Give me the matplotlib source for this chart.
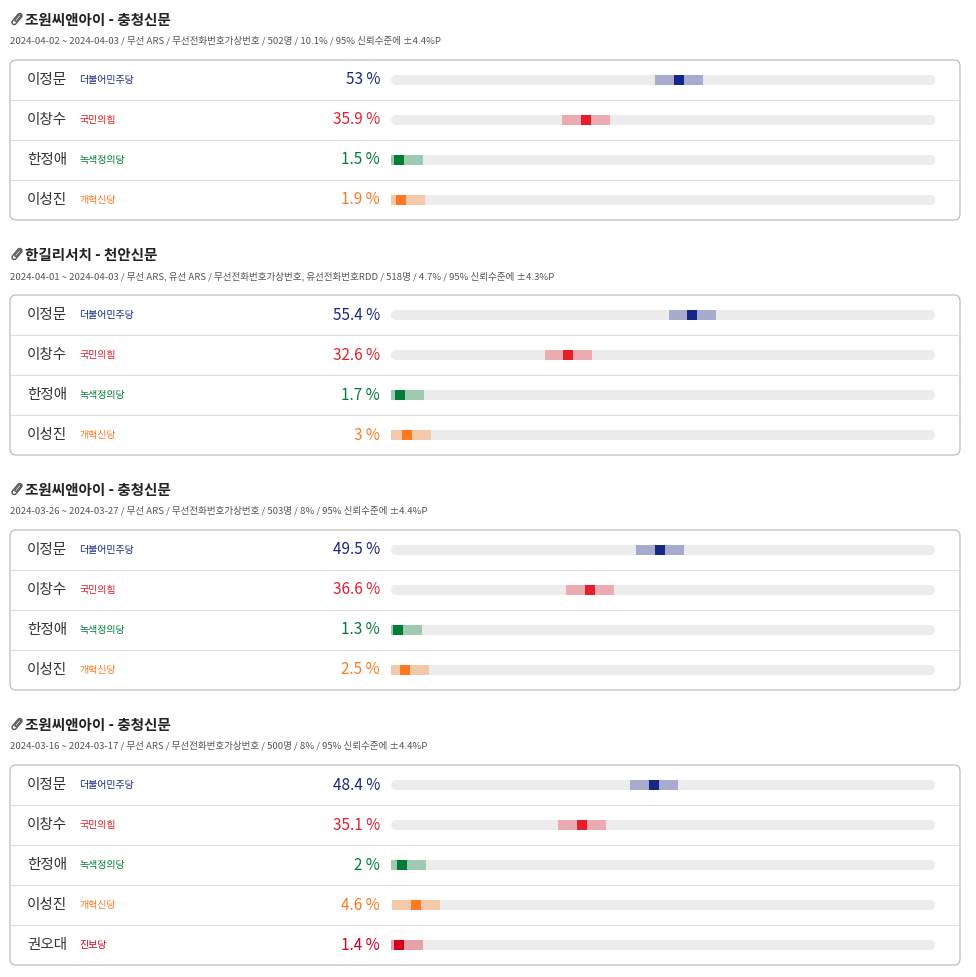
import matplotlib
matplotlib.use("Agg")
import matplotlib.pyplot as plt
from matplotlib.patches import FancyBboxPatch
import matplotlib.transforms as mtransforms

plt.rcParams['font.family'] = ['Noto Sans CJK KR', 'DejaVu Sans']

# ---------------- data ----------------
titles = ["조원씨앤아이 - 충청신문", "한길리서치 - 천안신문", "조원씨앤아이 - 충청신문", "조원씨앤아이 - 충청신문"]
subtitles = [
    "2024-04-02 ~ 2024-04-03 / 무선 ARS / 무선전화번호가상번호 / 502명 / 10.1% / 95% 신뢰수준에 ±4.4%P",
    "2024-04-01 ~ 2024-04-03 / 무선 ARS, 유선 ARS / 무선전화번호가상번호, 유선전화번호RDD / 518명 / 4.7% / 95% 신뢰수준에 ±4.3%P",
    "2024-03-26 ~ 2024-03-27 / 무선 ARS / 무선전화번호가상번호 / 503명 / 8% / 95% 신뢰수준에 ±4.4%P",
    "2024-03-16 ~ 2024-03-17 / 무선 ARS / 무선전화번호가상번호 / 500명 / 8% / 95% 신뢰수준에 ±4.4%P",
]
candidates_4 = ["이정문", "이창수", "한정애", "이성진"]
parties_4 = ["더불어민주당", "국민의힘", "녹색정의당", "개혁신당"]
candidates_5 = ["이정문", "이창수", "한정애", "이성진", "권오대"]
parties_5 = ["더불어민주당", "국민의힘", "녹색정의당", "개혁신당", "진보당"]

values_1 = [53, 35.9, 1.5, 1.9]
values_2 = [55.4, 32.6, 1.7, 3]
values_3 = [49.5, 36.6, 1.3, 2.5]
values_4 = [48.4, 35.1, 2, 4.6, 1.4]
margins = [4.4, 4.3, 4.4, 4.4]

sections = [
    (candidates_4, parties_4, values_1),
    (candidates_4, parties_4, values_2),
    (candidates_4, parties_4, values_3),
    (candidates_5, parties_5, values_4),
]

party_dark = {"더불어민주당": "#152684", "국민의힘": "#e61e2b", "녹색정의당": "#007c36",
              "개혁신당": "#ff7920", "진보당": "#d6001c"}
party_light = {"더불어민주당": "#a7acce", "국민의힘": "#ebabb0", "녹색정의당": "#a0c9b2",
               "개혁신당": "#f4c9aa", "진보당": "#e5a1aa"}

# ---------------- layout ----------------
W, H = 976, 977
fig = plt.figure(figsize=(W / 100, H / 100), dpi=100)
base = fig.add_axes([0, 0, 1, 1])
base.set_xlim(0, W)
base.set_ylim(H, 0)
base.axis('off')

ROW_H = 40
BAR_L, BAR_R = 391, 935
BOX_L, BOX_R = 10, 960
sec_top = 0

for si, (names, parties, vals) in enumerate(sections):
    y0 = sec_top
    # paperclip icon
    clip = FancyBboxPatch((-2.2, -6.5), 4.4, 13, boxstyle="round,pad=0,rounding_size=2.2",
                          fill=False, ec="#555555", lw=1.0)
    tr = mtransforms.Affine2D().rotate_deg(40).translate(17, y0 + 19) + base.transData
    clip.set_transform(tr)
    base.add_patch(clip)
    clip2 = FancyBboxPatch((-1.0, -4.5), 2.0, 8, boxstyle="round,pad=0,rounding_size=1.0",
                           fill=False, ec="#555555", lw=0.9)
    clip2.set_transform(mtransforms.Affine2D().rotate_deg(40).translate(17.5, y0 + 18.5) + base.transData)
    base.add_patch(clip2)

    base.text(25, y0 + 20, titles[si], fontsize=10.5, fontweight='bold', color="#222222",
              va='center', ha='left')
    base.text(10, y0 + 41, subtitles[si], fontsize=6.9, color="#555555", va='center', ha='left')

    n = len(names)
    box_top = y0 + 60
    box_bot = box_top + n * ROW_H
    box = FancyBboxPatch((BOX_L, box_top), BOX_R - BOX_L, box_bot - box_top,
                         boxstyle="round,pad=0,rounding_size=6", fc="white", ec="#bdbdbd", lw=0.9)
    base.add_patch(box)
    for r in range(1, n):
        yy = box_top + r * ROW_H
        base.plot([BOX_L + 0.5, BOX_R - 0.5], [yy, yy], color="#dddddd", lw=0.8)

    for r in range(n):
        yc = box_top + r * ROW_H + ROW_H / 2
        base.text(27, yc, names[r], fontsize=10.5, color="#333333", va='center', ha='left')
        base.text(79, yc, parties[r], fontsize=7.2, color=party_dark[parties[r]], va='center', ha='left')
        base.text(380, yc, f"{vals[r]:g} %", fontsize=11, color=party_dark[parties[r]],
                  va='center', ha='right')

    # bar axes for this section
    ax = fig.add_axes([BAR_L / W, 1 - box_bot / H, (BAR_R - BAR_L) / W, (box_bot - box_top) / H])
    ax.set_xlim(0, 100)
    ax.set_ylim(n, 0)
    ax.axis('off')
    ax.patch.set_alpha(0)
    pad = 5 / (BAR_R - BAR_L) * 100
    moe = margins[si]
    for r in range(n):
        yc = r + 0.5
        p = parties[r]
        ax.plot([pad, 100 - pad], [yc, yc], color="#ececec", lw=7.2, solid_capstyle='round', zorder=1)
        lo = max(0, vals[r] - moe)
        hi = min(100, vals[r] + moe)
        ax.barh(yc, hi - lo, left=lo, height=0.25, color=party_light[p], zorder=2)
        ax.barh(yc, 1.84, left=vals[r] - 0.92, height=0.25, color=party_dark[p], zorder=3)

    sec_top += 60 + n * ROW_H + 15

fig.savefig("out.png", dpi=100)
